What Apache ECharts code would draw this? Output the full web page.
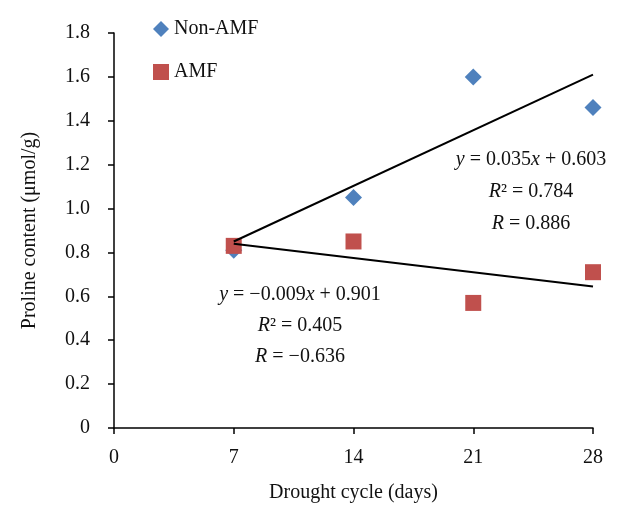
<!DOCTYPE html>
<html>
<head>
<meta charset="utf-8">
<script src="https://cdn.jsdelivr.net/npm/echarts@6/dist/echarts.min.js"></script>
<style>
  html, body { margin: 0; padding: 0; background: #fff; }
  #chart { width: 624px; height: 505px; }
</style>
</head>
<body>
<div id="chart"></div>
<script>
// 干旱周期 (天)
const days = [7, 14, 21, 28];
const nonAmfValues = [0.81, 1.05, 1.60, 1.46];
const amfValues = [0.83, 0.85, 0.57, 0.71];
// 趋势线端点
const nonAmfTrend = [[7, 0.85], [28, 1.61]];
const amfTrend = [[7, 0.84], [28, 0.645]];
const yTicks = [0, 0.2, 0.4, 0.6, 0.8, 1.0, 1.2, 1.4, 1.6, 1.8];
const xTicks = [0, 7, 14, 21, 28];

const FONT = '"Liberation Serif", "DejaVu Serif", serif';
const FS = 20;
const BLUE = '#4F81BD';
const RED = '#C0504D';

const chart = echarts.init(document.getElementById('chart'));

const eqStyle = {
  fontFamily: FONT, fontSize: FS, fill: '#111', align: 'center', verticalAlign: 'middle',
  rich: { i: { fontStyle: 'italic', fontFamily: FONT, fontSize: FS } }
};

function eqText(x, y, text) {
  return { type: 'text', x: x, y: y, style: Object.assign({ text: text }, eqStyle) };
}

const option = {
  animation: false,
  backgroundColor: '#fff',
  textStyle: { fontFamily: FONT },
  grid: { left: 114, top: 33, right: 31, bottom: 77, outerBoundsMode: 'none', containLabel: false },
  legend: {
    orient: 'vertical',
    left: 148,
    top: 14,
    itemGap: 23,
    itemWidth: 16,
    itemHeight: 16,
    textStyle: { fontFamily: FONT, fontSize: FS, color: '#111' },
    data: [
      { name: 'Non-AMF', icon: 'diamond', itemStyle: { color: BLUE, opacity: 1 } },
      { name: 'AMF', icon: 'rect', itemStyle: { color: RED, opacity: 1 } }
    ]
  },
  xAxis: {
    type: 'value',
    min: xTicks[0],
    max: xTicks[xTicks.length - 1],
    interval: 7,
    name: 'Drought cycle (days)',
    nameLocation: 'middle',
    nameGap: 55,
    nameTextStyle: { fontFamily: FONT, fontSize: FS, color: '#111' },
    axisLine: { lineStyle: { color: '#000', width: 1.5 } },
    axisTick: { show: true, length: 6, lineStyle: { color: '#000', width: 1.5 } },
    axisLabel: { margin: 20, fontFamily: FONT, fontSize: FS, color: '#111' },
    splitLine: { show: false }
  },
  yAxis: {
    type: 'value',
    min: yTicks[0],
    max: yTicks[yTicks.length - 1],
    interval: 0.2,
    name: 'Proline content (μmol/g)',
    nameLocation: 'middle',
    nameGap: 74,
    nameTextStyle: { fontFamily: FONT, fontSize: FS, color: '#111' },
    axisLine: { show: true, lineStyle: { color: '#000', width: 1.5 } },
    axisTick: { show: true, length: 6, lineStyle: { color: '#000', width: 1.5 } },
    axisLabel: {
      margin: 24, fontFamily: FONT, fontSize: FS, color: '#111',
      formatter: v => (v === 0 ? '0' : v.toFixed(1))
    },
    splitLine: { show: false }
  },
  series: [
    {
      name: 'Non-AMF',
      type: 'scatter',
      symbol: 'diamond',
      symbolSize: 17,
      itemStyle: { color: BLUE, opacity: 1 },
      data: days.map((d, i) => [d, nonAmfValues[i]]),
      z: 2
    },
    {
      name: 'AMF',
      type: 'scatter',
      symbol: 'rect',
      symbolSize: 16,
      itemStyle: { color: RED, opacity: 1 },
      data: days.map((d, i) => [d, amfValues[i]]),
      z: 3
    },
    {
      name: 'trendNonAmf',
      type: 'line',
      symbol: 'none',
      lineStyle: { color: '#000', width: 2 },
      data: nonAmfTrend,
      z: 4
    },
    {
      name: 'trendAmf',
      type: 'line',
      symbol: 'none',
      lineStyle: { color: '#000', width: 2 },
      data: amfTrend,
      z: 4
    }
  ],
  graphic: [
    // Non-AMF 回归方程
    eqText(531, 160, '{i|y} = 0.035{i|x} + 0.603'),
    eqText(531, 192, '{i|R}² = 0.784'),
    eqText(531, 224, '{i|R} = 0.886'),
    // AMF 回归方程
    eqText(300, 295, '{i|y} = −0.009{i|x} + 0.901'),
    eqText(300, 326, '{i|R}² = 0.405'),
    eqText(300, 357, '{i|R} = −0.636')
  ]
};

chart.setOption(option);
</script>
</body>
</html>
